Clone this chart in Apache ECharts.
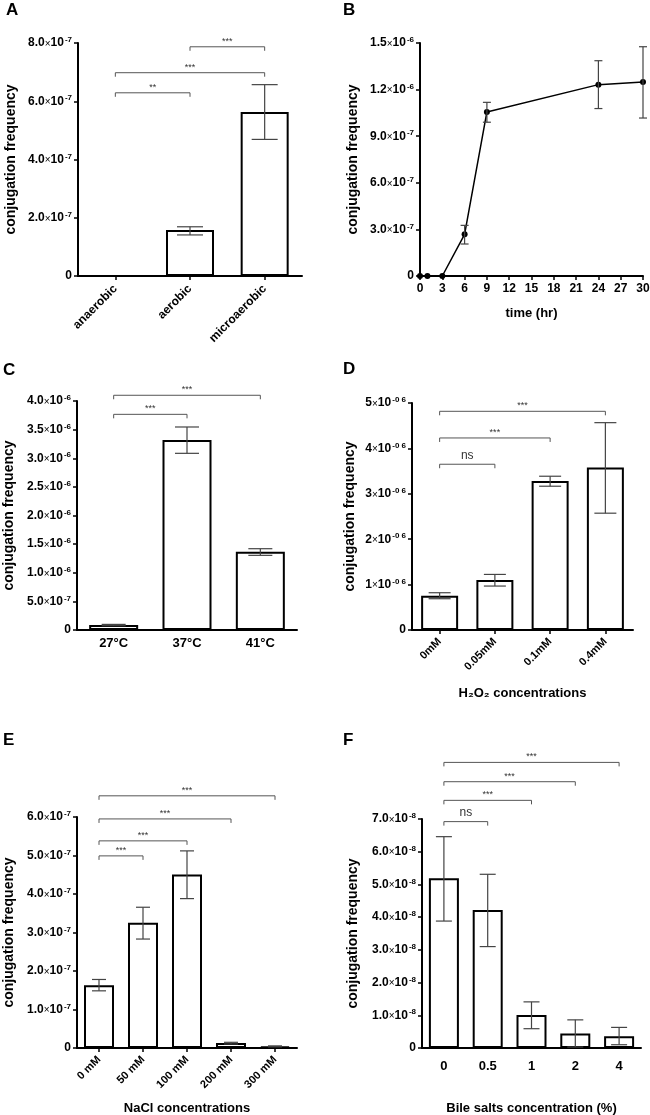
<!DOCTYPE html>
<html><head><meta charset="utf-8">
<script src="https://cdn.jsdelivr.net/npm/echarts@6/dist/echarts.min.js"></script>
<style>html,body{margin:0;padding:0;background:#fff}#c{width:650px;height:1115px}</style>
</head><body><div id="c"></div>
<script>
// ---- Panel A
const catA = ['anaerobic','aerobic','microaerobic'];
const valA = [0, 1.58e-7, 5.63e-7];
const errLoA = [null, 1.41e-7, 4.69e-7];
const errHiA = [null, 1.69e-7, 6.57e-7];
const brkA = [[0,1,6.29e-7],[0,2,6.98e-7],[1,2,7.87e-7]];
const brkTxtA = ['**','***','***'];
// ---- Panel B
const timeB = [0,1,3,6,9,24,30];
const valB = [0,0,0,2.68e-7,1.056e-6,1.232e-6,1.249e-6];
const errLoB = [null,null,null,2.06e-7,0.99e-6,1.078e-6,1.017e-6];
const errHiB = [null,null,null,3.26e-7,1.118e-6,1.386e-6,1.476e-6];
// ---- Panel C
const catC = ['27°C','37°C','41°C'];
const valC = [8.7e-8, 3.32e-6, 1.368e-6];
const errLoC = [7.5e-8, 3.086e-6, 1.304e-6];
const errHiC = [9.8e-8, 3.546e-6, 1.42e-6];
const brkC = [[0,1,3.767e-6],[0,2,4.10e-6]];
const brkTxtC = ['***','***'];
// ---- Panel D
const catD = ['0mM','0.05mM','0.1mM','0.4mM'];
const valD = [0.755e-6,1.10e-6,3.284e-6,3.578e-6];
const errLoD = [0.689e-6,0.968e-6,3.167e-6,2.573e-6];
const errHiD = [0.821e-6,1.224e-6,3.387e-6,4.567e-6];
const brkD = [[0,1,3.651e-6],[0,2,4.23e-6],[0,3,4.817e-6]];
const brkTxtD = ['ns','***','***'];
// ---- Panel E
const catE = ['0 mM','50 mM','100 mM','200 mM','300 mM'];
const valE = [1.632e-7,3.256e-7,4.507e-7,1.3e-8,4.3e-9];
const errLoE = [1.485e-7,2.83e-7,3.88e-7,1.04e-8,3.0e-9];
const errHiE = [1.78e-7,3.656e-7,5.12e-7,1.48e-8,5.5e-9];
const brkE = [[0,1,4.99e-7],[0,2,5.38e-7],[0,3,5.95e-7],[0,4,6.55e-7]];
const brkTxtE = ['***','***','***','***'];
// ---- Panel F
const catF = ['0','0.5','1','2','4'];
const valF = [5.19e-8,4.22e-8,1.01e-8,0.44e-8,0.36e-8];
const errLoF = [3.88e-8,3.10e-8,0.59e-8,0.03e-8,0.10e-8];
const errHiF = [6.46e-8,5.31e-8,1.41e-8,0.86e-8,0.63e-8];
const brkF = [[0,1,6.92e-8],[0,2,7.57e-8],[0,3,8.14e-8],[0,4,8.73e-8]];
const brkTxtF = ['ns','***','***','***'];

const FF = '"Liberation Sans", Arial, Helvetica, sans-serif';
function sciFmt(dec, pad){
  return function(v){
    if (Math.abs(v) < 1e-20) return '{m|0}';
    const e = Math.floor(Math.log10(v) + 1e-9);
    const m = v / Math.pow(10, e);
    const es = pad ? '-0 ' + String(-e) : String(e);
    return '{m|' + m.toFixed(dec) + '}{x|×}{m|10}{s|' + es + '}';
  };
}
const richLbl = {
  m:{fontSize:12, fontWeight:'bold', color:'#000', fontFamily:FF, lineHeight:14},
  x:{fontSize:10, fontWeight:'normal', color:'#000', fontFamily:FF, padding:[2,0,0,0]},
  s:{fontSize:8, fontWeight:'bold', color:'#000', fontFamily:FF, verticalAlign:'top', padding:[0,0,0,1]}
};

const grids = [
  {left:78, top:43, width:224, height:233},
  {left:420, top:43, width:223, height:233},
  {left:77, top:401, width:220, height:229},
  {left:412, top:403, width:221, height:227},
  {left:77, top:817, width:220, height:231},
  {left:422, top:819, width:219, height:229}
].map(g => Object.assign({outerBoundsMode:'none', containLabel:false}, g));

const nameStyle = {fontSize:14, fontWeight:'bold', color:'#000', fontFamily:FF};
function yAx(idx, max, interval, fmt, gap){
  return {type:'value', gridIndex:idx, min:0, max:max, interval:interval,
    splitLine:{show:false},
    axisLine:{show:true, lineStyle:{color:'#000', width:2}},
    axisTick:{show:true, length:4, lineStyle:{color:'#000', width:1.5}},
    axisLabel:{formatter:fmt, rich:richLbl, color:'#000', margin:6, fontFamily:FF},
    name:'conjugation frequency', nameLocation:'middle', nameGap:gap, nameTextStyle:nameStyle};
}
function xCat(idx, cats, rotate, fs, margin, tick, name, gap){
  return {type:'category', gridIndex:idx, data:cats,
    axisLine:{show:true, lineStyle:{color:'#000', width:2}},
    axisTick:{show:tick, alignWithLabel:true, length:4, lineStyle:{color:'#000', width:1.5}},
    axisLabel:{rotate:rotate, interval:0, fontSize:fs, fontWeight:'bold', color:'#000', margin:margin, fontFamily:FF},
    name:name, nameLocation:'middle', nameGap:gap, nameTextStyle:Object.assign({}, nameStyle, {fontSize:13})};
}
function barS(idx, vals, bw){
  return {type:'bar', xAxisIndex:idx, yAxisIndex:idx, data:vals, barWidth:bw, silent:true,
    itemStyle:{color:'#fff', borderColor:'#000', borderWidth:2}};
}
function errS(idx, xs, lo, hi, half){
  const pts = [];
  xs.forEach((x, i) => { if (lo[i] != null) pts.push({x:x, lo:lo[i], hi:hi[i]}); });
  return {type:'custom', xAxisIndex:idx, yAxisIndex:idx, silent:true, clip:false, z:5,
    data: pts.map(p => [p.x, p.hi]), encode:{x:0, y:1},
    renderItem: function(params, api){
      const p = pts[params.dataIndex];
      const a = api.coord([p.x, p.lo]), b = api.coord([p.x, p.hi]);
      const st = {stroke:'#444', lineWidth:1.2};
      return {type:'group', children:[
        {type:'line', shape:{x1:a[0], y1:a[1], x2:b[0], y2:b[1]}, style:st},
        {type:'line', shape:{x1:a[0]-half, y1:a[1], x2:a[0]+half, y2:a[1]}, style:st},
        {type:'line', shape:{x1:b[0]-half, y1:b[1], x2:b[0]+half, y2:b[1]}, style:st}
      ]};
    }};
}
function brkS(idx, brk, txt){
  return {type:'custom', xAxisIndex:idx, yAxisIndex:idx, silent:true, clip:false, z:6,
    data: brk.map(b => [b[0], b[2]]), encode:{x:0, y:1},
    renderItem: function(params, api){
      const b = brk[params.dataIndex], t = txt[params.dataIndex];
      const p1 = api.coord([b[0], b[2]]), p2 = api.coord([b[1], b[2]]);
      const ns = t === 'ns';
      return {type:'group', children:[
        {type:'polyline', shape:{points:[[p1[0], p1[1]+4],[p1[0], p1[1]],[p2[0], p2[1]],[p2[0], p2[1]+4]]},
          style:{stroke:'#555', lineWidth:1, fill:null}},
        {type:'text', x:(p1[0]+p2[0])/2, y:p1[1] - (ns ? 3 : 1),
          style:{text:t, align:'center', verticalAlign:'bottom', fontSize: ns ? 12 : 9, fill:'#333', fontFamily:FF}}
      ]};
    }};
}
function idx(arr){ return arr.map((_, i) => i); }

const option = {
  animation:false,
  backgroundColor:'#fff',
  grid: grids,
  xAxis: [
    xCat(0, catA, 45, 12, 11, true, '', 0),
    {type:'value', gridIndex:1, min:0, max:30, interval:3, splitLine:{show:false},
      axisLine:{show:true, lineStyle:{color:'#000', width:2}},
      axisTick:{show:true, length:4, lineStyle:{color:'#000', width:1.5}},
      axisLabel:{fontSize:12, fontWeight:'bold', color:'#000', margin:7, fontFamily:FF},
      name:'time (hr)', nameLocation:'middle', nameGap:31, nameTextStyle:Object.assign({}, nameStyle, {fontSize:13})},
    xCat(2, catC, 0, 13, 7, false, '', 0),
    xCat(3, catD, 45, 11, 10, true, 'H\u2082O\u2082 concentrations', 57),
    xCat(4, catE, 45, 11, 10, true, 'NaCl concentrations', 54),
    xCat(5, catF, 0, 13, 12, false, 'Bile salts concentration (%)', 54)
  ],
  yAxis: [
    yAx(0, 8e-7, 2e-7, sciFmt(1,false), 60),
    yAx(1, 1.5e-6, 3e-7, sciFmt(1,false), 60),
    yAx(2, 4e-6, 5e-7, sciFmt(1,false), 61),
    yAx(3, 5e-6, 1e-6, sciFmt(0,true), 55),
    yAx(4, 6e-7, 1e-7, sciFmt(1,false), 61),
    yAx(5, 7e-8, 1e-8, sciFmt(1,false), 62)
  ],
  series: [
    barS(0, valA, 48), errS(0, idx(catA), errLoA, errHiA, 13), brkS(0, brkA, brkTxtA),
    {type:'line', xAxisIndex:1, yAxisIndex:1, data: timeB.map((t, i) => [t, valB[i]]), silent:true,
      symbol:'circle', symbolSize:6, itemStyle:{color:'#000'}, lineStyle:{color:'#000', width:1.5}, z:4},
    errS(1, timeB, errLoB, errHiB, 4),
    barS(2, valC, 49), errS(2, idx(catC), errLoC, errHiC, 12), brkS(2, brkC, brkTxtC),
    barS(3, valD, 37), errS(3, idx(catD), errLoD, errHiD, 11), brkS(3, brkD, brkTxtD),
    barS(4, valE, 30), errS(4, idx(catE), errLoE, errHiE, 7), brkS(4, brkE, brkTxtE),
    barS(5, valF, 30), errS(5, idx(catF), errLoF, errHiF, 8), brkS(5, brkF, brkTxtF)
  ],
  graphic: [
    ['A', 6, 2], ['B', 343, 2], ['C', 3, 362], ['D', 343, 361], ['E', 3, 732], ['F', 343, 732]
  ].map(l => ({type:'text', left:l[1], top:l[2], style:{text:l[0], fontSize:17, fontWeight:'bold', fill:'#000', fontFamily:FF}}))
};
const chart = echarts.init(document.getElementById('c'), null, {renderer:'canvas'});
chart.setOption(option);
</script></body></html>
